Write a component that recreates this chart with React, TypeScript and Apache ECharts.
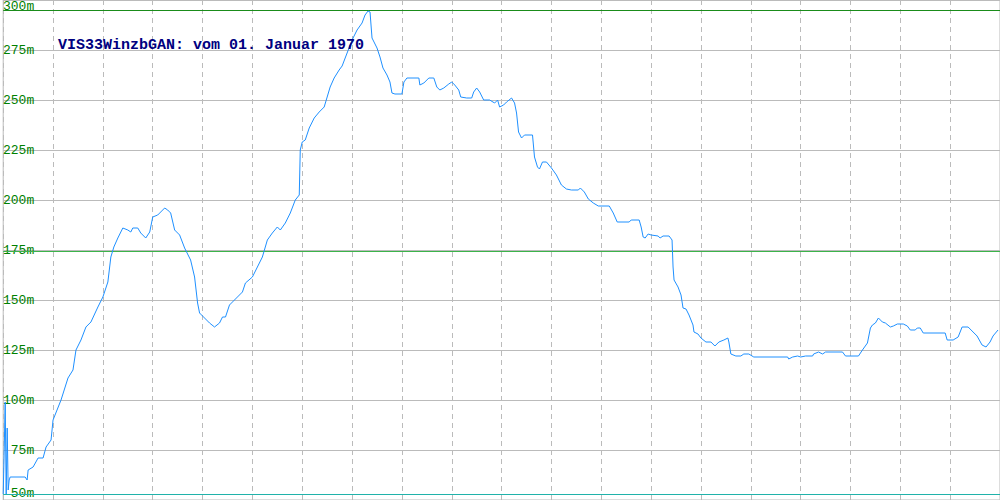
import React, { useEffect, useRef } from "react";
import * as echarts from "echarts";

const titleText = "VIS33WinzbGAN: vom 01. Januar 1970";
const yTicks = [50, 75, 100, 125, 150, 175, 200, 225, 250, 275, 300];
const refLines = [294.75, 174.25, 52.75];
const refColors = ["#1a8c1a", "#3cb34a", "#20b2aa"];

const times = [
  0, 1, 2, 3, 4, 5, 6, 7, 22, 24, 25, 30, 35, 40, 43, 48, 50, 58, 65, 70, 73, 78, 83, 88, 95,
  100, 105, 108, 111, 115, 120, 125, 128, 130, 135, 138, 143, 147, 150, 155, 162, 165, 168, 172,
  177, 182, 188, 192, 195, 197, 202, 207, 212, 217, 220, 223, 227, 232, 240, 243, 250, 255, 260,
  265, 270, 275, 278, 283, 288, 293, 297, 298, 300, 303, 307, 312, 317, 322, 325, 328, 332, 337,
  340, 345, 350, 355, 360, 363, 366, 368, 370, 375, 378, 381, 385, 388, 390, 393, 400, 402, 405,
  417, 418, 422, 427, 432, 435, 438, 442, 447, 450, 453, 457, 459, 465, 470, 472, 475, 478, 482,
  488, 493, 496, 498, 502, 505, 510, 513, 515, 517, 520, 523, 531, 533, 536, 538, 541, 545, 550,
  555, 560, 565, 570, 577, 579, 583, 587, 592, 597, 608, 612, 616, 628, 630, 638, 640, 642, 644,
  647, 650, 657, 659, 662, 668, 671, 672, 673, 677, 680, 682, 685, 688, 692, 693, 697, 700, 705,
  710, 714, 718, 723, 727, 728, 730, 735, 740, 743, 748, 753, 787, 788, 792, 797, 800, 805, 812,
  813, 818, 822, 825, 842, 845, 858, 862, 867, 870, 872, 875, 878, 882, 885, 890, 893, 897, 903,
  907, 910, 915, 917, 920, 923, 945, 947, 953, 958, 962, 968, 973, 977, 982, 986, 990, 993, 998,
];

const levels = [
  53, 75, 99, 53, 86, 55, 60, 61.5, 61.5, 60, 65, 66.5, 71, 71, 76.5, 80, 90, 100, 111, 115, 125,
  130, 136.5, 139, 146.5, 151.5, 159, 171.5, 176.5, 181, 186, 185, 184, 186, 186, 183.5, 181, 184,
  191.5, 192.5, 196, 195, 193.5, 185, 182.5, 176, 170, 161.5, 148.5, 143.5, 141, 138.5, 136.5,
  138.5, 141.5, 141.5, 147.5, 150, 154, 158.5, 161.5, 166.5, 171.5, 180, 183.5, 186.5, 185, 188.5,
  193.5, 200, 202.5, 225, 229, 230, 236, 241, 244, 246.5, 251.5, 256.5, 261, 265, 267, 273.5, 280,
  285, 288.5, 292.5, 294.5, 294, 281, 276, 271.5, 266, 262.5, 259, 253.5, 253, 253, 259, 261, 261,
  257.5, 258.5, 261, 261, 256.5, 255, 256, 258, 259, 257.5, 255, 251.5, 251, 251, 254, 256, 254,
  250, 250, 248.5, 250, 246.5, 247.5, 249, 251, 248.5, 243.5, 234, 231, 232.5, 232.5, 221.5,
  216.5, 215.5, 219, 219, 216, 212.5, 207.5, 205.5, 205, 205, 206, 204, 200.5, 198.5, 197, 197,
  193.5, 189, 189, 190, 190, 186.5, 181.5, 181, 183, 182.5, 182, 181, 182, 182, 180, 166.5, 160,
  156.5, 152.5, 146, 145.5, 142.5, 137.5, 134, 133, 131, 129, 129, 127, 129, 130, 131, 129, 123,
  122, 122, 123, 123, 121.5, 121.5, 120.5, 121.5, 122, 121.5, 122, 122, 123, 124, 123, 124, 124,
  122, 122, 125, 128.5, 136, 137.5, 138.5, 141, 139, 138.5, 136.5, 137, 138, 138, 137, 135, 135,
  136, 136, 133.5, 133.5, 130, 130, 131.5, 136.5, 136.5, 134, 132, 127.5, 126.5, 129, 132, 135,
];

export default function App() {
  const ref = useRef<HTMLDivElement>(null);
  useEffect(() => {
    if (!ref.current) return;
    const chart = echarts.init(ref.current, undefined, { renderer: "svg" });
    const data = times.map((t, i) => [t, levels[i]]);
    const xMin = 0;
    const xMax = 1000;
    const refSeries = refLines.map((v, i) => ({
      type: "line",
      data: [
        [xMin, v],
        [xMax, v],
      ],
      showSymbol: false,
      symbol: "none",
      silent: true,
      z: 1,
      lineStyle: { color: refColors[i], width: 1 },
    }));
    chart.setOption({
      animation: false,
      backgroundColor: "#ffffff",
      title: {
        text: titleText,
        left: 58,
        top: 38,
        padding: 0,
        textStyle: {
          fontFamily: "Liberation Mono",
          fontSize: 15,
          fontWeight: "bold",
          color: "#000080",
        },
      },
      grid: {
        left: 0,
        right: 0,
        top: 0,
        bottom: 0,
        show: true,
        borderColor: "#bbbbbb",
        borderWidth: 1,
        backgroundColor: "transparent",
      },
      xAxis: {
        type: "value",
        min: xMin,
        max: xMax,
        interval: 50,
        axisLine: { show: false },
        axisTick: { show: false },
        axisLabel: { show: false },
        splitLine: { show: true, lineStyle: { color: "#bbbbbb", type: [5, 4], width: 1 } },
      },
      yAxis: {
        type: "value",
        min: yTicks[0],
        max: yTicks[yTicks.length - 1],
        interval: 25,
        axisLine: { show: false },
        axisTick: { show: false },
        axisLabel: {
          inside: true,
          align: "right",
          margin: 31,
          color: "#008000",
          fontFamily: "Liberation Mono",
          fontSize: 13,
          formatter: (v: number) => v + "m",
          verticalAlignMinLabel: "bottom",
          verticalAlignMaxLabel: "top",
        },
        splitLine: { show: true, lineStyle: { color: "#bbbbbb", width: 1 } },
      },
      series: [
        ...refSeries,
        {
          type: "line",
          data,
          showSymbol: false,
          symbol: "none",
          z: 2,
          lineStyle: { color: "#1e90ff", width: 1 },
        },
      ],
    });
    return () => chart.dispose();
  }, []);
  return (
    <div
      ref={ref}
      style={{ position: "fixed", left: 0, top: 0, width: 1000, height: 500 }}
    />
  );
}
